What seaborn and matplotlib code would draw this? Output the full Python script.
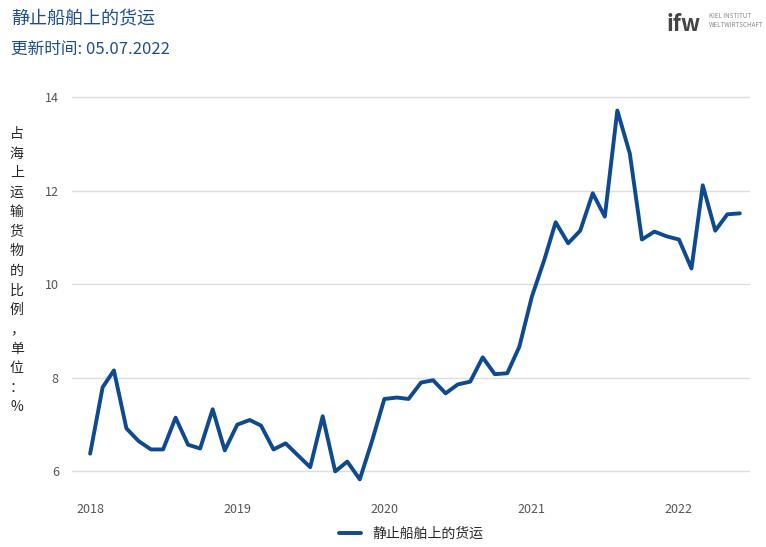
import matplotlib.pyplot as plt
import seaborn as sns
import pandas as pd

sns.set_theme(style="whitegrid")
plt.rcParams['font.family'] = ['Noto Sans CJK SC', 'DejaVu Sans']

# monthly values, Jan 2018 - Jun 2022
values = [6.38, 7.80, 8.16, 6.92, 6.65, 6.47, 6.47, 7.15, 6.57, 6.49, 7.33, 6.45,
          7.00, 7.10, 6.98, 6.47, 6.60, 6.34, 6.09, 7.18, 6.00, 6.21, 5.83, 6.64,
          7.55, 7.58, 7.55, 7.90, 7.95, 7.67, 7.86, 7.92, 8.44, 8.08, 8.10, 8.67,
          9.74, 10.53, 11.33, 10.88, 11.15, 11.95, 11.45, 13.72, 12.80, 10.96, 11.13, 11.03,
          10.96, 10.34, 12.12, 11.15, 11.50, 11.52]
dates = pd.date_range("2018-01-01", periods=len(values), freq="MS")
series_name = "静止船舶上的货运"
df = pd.DataFrame({"date": dates, "value": values})

blue = "#0e4a8f"
fig = plt.figure(figsize=(7.66, 5.47), dpi=100)
ax = fig.add_axes([0.094, 0.104, 0.885, 0.735])
sns.lineplot(data=df, x="date", y="value", color=blue, linewidth=2.8, ax=ax, label=series_name)

ax.set_ylim(5.6, 14.2)
ax.set_yticks([6, 8, 10, 12, 14])
ax.set_xlim(pd.Timestamp("2017-11-17"), pd.Timestamp("2022-06-26"))
ax.set_xticks(pd.to_datetime(["2018-01-01", "2019-01-01", "2020-01-01", "2021-01-01", "2022-01-01"]))
ax.set_xticklabels(["2018", "2019", "2020", "2021", "2022"])
ax.tick_params(labelsize=9, colors="#555555")
ax.grid(axis="x", visible=False)
ax.grid(axis="y", color="#dddddd")
for s in ax.spines.values():
    s.set_visible(False)
ax.set_xlabel("")
ax.set_ylabel("")
ax.legend(loc="upper center", bbox_to_anchor=(0.5, -0.06), frameon=False, fontsize=10,
          handlelength=1.6)

ylab = "占海上运输货物的比例，单位：%"
fig.text(0.022, 0.505, "\n".join(ylab), ha="center", va="center", fontsize=10, linespacing=1.5)

fig.text(0.015, 0.965, "静止船舶上的货运", fontsize=13, color="#1f4e8c", va="center")
fig.text(0.015, 0.91, "更新时间: 05.07.2022", fontsize=12, color="#1f4e8c", va="center")
fig.text(0.87, 0.955, "ifw", fontsize=16, style="italic", fontweight="bold", color="#444444", va="center")
fig.text(0.925, 0.962, "KIEL INSTITUT\nWELTWIRTSCHAFT", fontsize=4.5, color="#888888", va="center")

plt.savefig("out.png", dpi=100)
